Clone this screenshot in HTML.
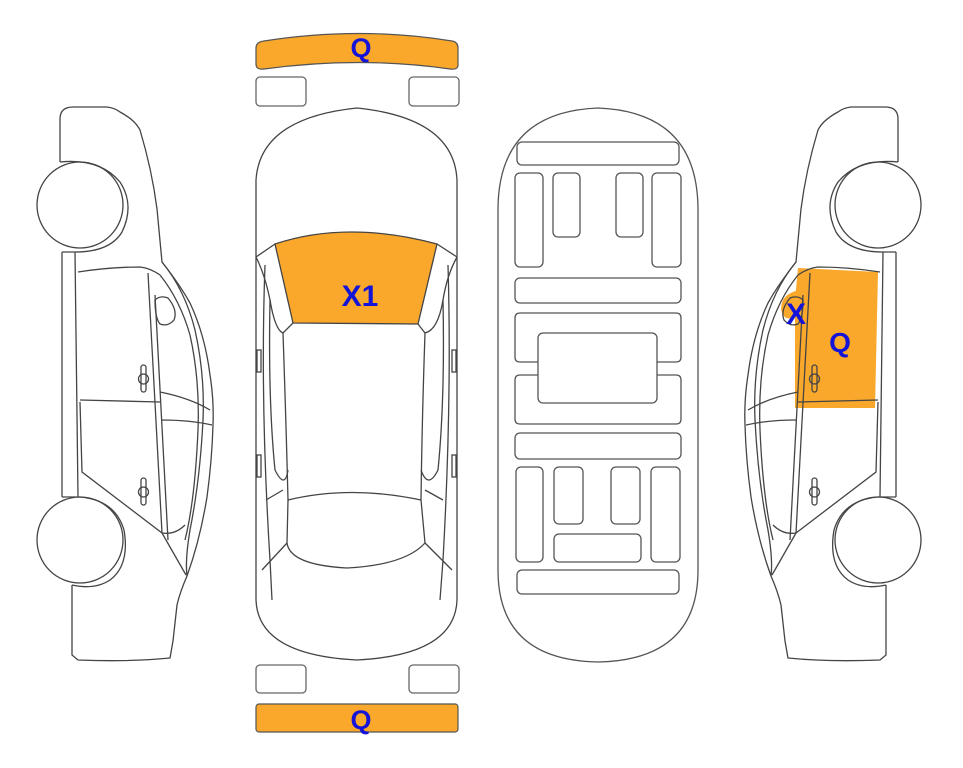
<!DOCTYPE html>
<html><head><meta charset="utf-8"><style>
html,body{margin:0;padding:0;background:#fff;}
svg{display:block}
text{font-family:"Liberation Sans",Arial,sans-serif;font-weight:bold;fill:#1414d8;}
</style></head><body>
<svg width="963" height="768" viewBox="0 0 963 768" xmlns="http://www.w3.org/2000/svg">
<defs>
<g id="side" fill="none" stroke="#444" stroke-width="1.3">
  <path d="M60,162 L60,119 Q60,107 73,107 L107,107 Q115,108 120,112 Q135,120 140,130 Q152,170 157,209 L162,262 Q180,285 190,303 Q205,335 210,375 Q214,400 213,425 Q212,460 207,497 Q200,540 187,576 Q180,592 177,605 L173,641 L170,658 Q130,662 78,660 L72,655 L72,585"/>
  <path d="M60,162 Q100,158 120,182 Q135,205 122,232 Q110,252 75,252 L62,252"/>
  <circle cx="80" cy="205" r="43"/>
  <circle cx="80" cy="540" r="43"/>
  <path d="M62,497 L80,497 Q115,500 124,530 Q130,565 110,580 Q95,590 72,585"/>
  <line x1="62" y1="252" x2="62" y2="497"/>
  <line x1="75" y1="252" x2="78" y2="497"/>
  <path d="M78,272 Q110,267 140,267 Q150,268 160,275"/>
  <path d="M162,262 Q185,290 195,330 Q205,375 203,420 Q200,480 190,530 Q185,560 187,576"/>
  <path d="M160,275 Q180,300 190,335 Q200,380 198,430 Q195,500 185,540"/>
  <line x1="148" y1="273" x2="162" y2="533"/>
  <line x1="155" y1="295" x2="168" y2="540"/>
  <path d="M80,400 L160,402"/>
  <path d="M160,392 Q190,398 210,410"/>
  <path d="M162,420 Q190,420 212,425"/>
  <path d="M80,402 L82,472 L162,533 Q175,535 185,525"/>
  <path d="M162,533 L186,575"/>
  <path d="M155,300 Q160,295 168,298 Q178,310 174,320 Q168,327 160,324 Q155,318 155,300 Z"/>
  <rect x="141" y="365" width="5" height="27" rx="2.5"/>
  <circle cx="143.5" cy="379" r="5"/>
  <rect x="141" y="478" width="5" height="27" rx="2.5"/>
  <circle cx="143.5" cy="492" r="5"/>
</g>
</defs>

<!-- left side car -->
<use href="#side"/>

<!-- right side car (mirrored) with orange door -->
<g transform="translate(958,0) scale(-1,1)">
  <path d="M80,272 L160,268 L163,300 L163,408 L83,408 Z" fill="#F9A82B"/>
  <path d="M158,290 Q170,292 175,300 Q180,312 172,318 Q162,320 158,312 Z" fill="#F9A82B"/>
  <use href="#side"/>
</g>

<!-- top bumper -->
<path d="M256,48 Q256,42 264,41 Q360,26 452,41 Q458,42 458,48 L458,66 Q457,70 450,69 Q360,56 264,69 Q256,70 256,64 Z" fill="#F9A82B" stroke="#555" stroke-width="1.2"/>
<rect x="256" y="77" width="50" height="29" rx="4" fill="none" stroke="#666" stroke-width="1.3"/>
<rect x="409" y="77" width="50" height="29" rx="4" fill="none" stroke="#666" stroke-width="1.3"/>
<!-- bottom bumper -->
<rect x="256" y="665" width="50" height="28" rx="4" fill="none" stroke="#666" stroke-width="1.3"/>
<rect x="409" y="665" width="50" height="28" rx="4" fill="none" stroke="#666" stroke-width="1.3"/>
<rect x="256" y="704" width="202" height="28" rx="3" fill="#F9A82B" stroke="#555" stroke-width="1.2"/>

<!-- top view car -->
<g fill="none" stroke="#444" stroke-width="1.3">
  <path d="M256,180 Q260,118 357,108 Q454,118 457,180 L457,600 Q455,655 357,660 Q258,655 256,600 Z"/>
  <path d="M275,244 Q347,220 437,244 L418,324 L293,323 Z" fill="#F9A82B"/>
  <path d="M256,257 L275,244"/><path d="M457,257 L437,244"/>
  <path d="M256,257 Q265,275 270,300 Q275,330 283,333 L293,323"/>
  <path d="M457,257 Q447,275 443,300 Q438,330 425,333 L418,324"/>
  <path d="M283,333 Q286,420 288,500"/>
  <path d="M425,333 Q422,420 421,500"/>
  <path d="M288,500 Q350,485 421,500"/>
  <path d="M287,543 Q290,565 347,568 Q405,565 425,543"/>
  <path d="M288,500 L287,543"/><path d="M421,500 L425,543"/>
  <path d="M265,265 Q260,400 270,560 L272,600"/>
  <path d="M448,265 Q452,400 443,560 L440,600"/>
  <path d="M270,300 Q268,400 275,470 Q285,490 288,470"/>
  <path d="M443,300 Q445,400 438,470 Q428,490 421,470"/>
  <path d="M283,490 L266,500"/><path d="M425,490 L443,500"/>
  <path d="M287,543 L262,570"/><path d="M425,543 L452,570"/>
  <rect x="257" y="350" width="4" height="22"/><rect x="452" y="350" width="4" height="22"/>
  <rect x="257" y="455" width="4" height="22"/><rect x="452" y="455" width="4" height="22"/>
</g>

<!-- undercarriage -->
<g fill="none" stroke="#555" stroke-width="1.3">
  <path d="M498,210 Q498,112 598,108 Q698,112 698,210 L698,570 Q698,660 598,662 Q498,660 498,570 Z"/>
  <rect x="517" y="142" width="162" height="23" rx="5"/>
  <rect x="515" y="173" width="28" height="94" rx="5"/>
  <rect x="553" y="173" width="27" height="64" rx="5"/>
  <rect x="616" y="173" width="27" height="64" rx="5"/>
  <rect x="652" y="173" width="29" height="94" rx="5"/>
  <rect x="515" y="278" width="166" height="25" rx="5"/>
  <path d="M538,362 L520,362 Q515,362 515,357 L515,318 Q515,313 520,313 L676,313 Q681,313 681,318 L681,357 Q681,362 676,362 L657,362"/>
  <path d="M538,375 L520,375 Q515,375 515,380 L515,419 Q515,424 520,424 L676,424 Q681,424 681,419 L681,380 Q681,375 676,375 L657,375"/>
  <rect x="538" y="333" width="119" height="70" rx="5"/>
  <rect x="515" y="433" width="166" height="26" rx="5"/>
  <rect x="516" y="467" width="27" height="95" rx="5"/>
  <rect x="554" y="467" width="29" height="57" rx="5"/>
  <rect x="611" y="467" width="29" height="57" rx="5"/>
  <rect x="651" y="467" width="29" height="95" rx="5"/>
  <rect x="554" y="534" width="87" height="28" rx="5"/>
  <rect x="517" y="570" width="162" height="24" rx="5"/>
</g>

<text x="361" y="57" font-size="27" text-anchor="middle">Q</text>
<text x="360" y="306" font-size="30" text-anchor="middle">X1</text>
<text x="796" y="324" font-size="30" text-anchor="middle">X</text>
<text x="840" y="352" font-size="28" text-anchor="middle">Q</text>
<text x="361" y="729" font-size="27" text-anchor="middle">Q</text>
</svg>
</body></html>
